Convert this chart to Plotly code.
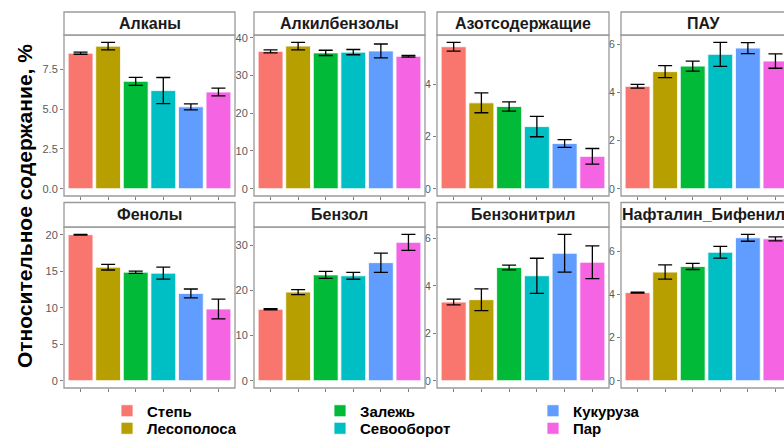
import plotly.graph_objects as go

# ---------------- data ----------------
groups = ["Степь", "Лесополоса", "Залежь", "Севооборот", "Кукуруза", "Пар"]
colors = ["#F8766D", "#B79F00", "#00BA38", "#00BFC4", "#619CFF", "#F564E3"]
# legend layout: column-major, 2 rows x 3 columns (as in the reference)
legend_row = ["legend", "legend2", "legend", "legend2", "legend", "legend2"]

panels = ["Алканы", "Алкилбензолы", "Азотсодержащие", "ПАУ",
          "Фенолы", "Бензол", "Бензонитрил", "Нафталин_Бифенил"]

alkany = [8.51, 8.95, 6.74, 6.16, 5.14, 6.07]
alkany_err = [0.07, 0.24, 0.25, 0.82, 0.19, 0.24]
alkilbenzoly = [36.4, 37.8, 36.0, 36.2, 36.5, 35.1]
alkilbenzoly_err = [0.4, 1.0, 0.7, 0.7, 1.85, 0.2]
azot = [5.44, 3.29, 3.15, 2.38, 1.73, 1.24]
azot_err = [0.17, 0.38, 0.18, 0.39, 0.15, 0.30]
pau = [4.26, 4.87, 5.10, 5.59, 5.85, 5.31]
pau_err = [0.08, 0.25, 0.21, 0.50, 0.23, 0.30]
fenoly = [20.0, 15.55, 14.86, 14.73, 11.95, 9.82]
fenoly_err = [0.05, 0.39, 0.16, 0.82, 0.61, 1.36]
benzol = [15.8, 19.6, 23.4, 23.2, 26.1, 30.6]
benzol_err = [0.15, 0.55, 0.77, 0.77, 2.13, 1.77]
benzonitril = [3.32, 3.42, 4.78, 4.43, 5.38, 5.00]
benzonitril_err = [0.12, 0.46, 0.10, 0.74, 0.80, 0.69]
naftalin = [4.08, 5.03, 5.29, 5.95, 6.62, 6.57]
naftalin_err = [0.02, 0.33, 0.14, 0.27, 0.16, 0.09]

values = [alkany, alkilbenzoly, azot, pau, fenoly, benzol, benzonitril, naftalin]
errors = [alkany_err, alkilbenzoly_err, azot_err, pau_err,
          fenoly_err, benzol_err, benzonitril_err, naftalin_err]
dticks = [2.5, 10, 2, 2, 5, 10, 2, 2]
tickformats = [".1f", "d", "d", "d", "d", "d", "d", "d"]

y_title = "Относительное содержание, %"

# ---------------- layout geometry (px) ----------------
W, H = 784, 439


def px_x(p):
    return p / W


def px_y(p):
    return 1 - p / H


col_px = [(64, 235), (254, 425), (437, 609), (621, 792)]
row_plot_px = [(35, 196), (227, 388)]
row_strip_px = [(12, 35), (202.5, 227)]
FONT = "Liberation Sans, Arial, sans-serif"
BORDER = "#9a9a9a"

fig = go.Figure()
layout = dict(width=W, height=H,
              margin=dict(l=0, r=0, t=0, b=0, pad=0, autoexpand=False),
              paper_bgcolor="white", plot_bgcolor="white",
              barmode="overlay", font=dict(family=FONT),
              shapes=[], annotations=[])

for i, name in enumerate(panels):
    r, c = divmod(i, 4)
    sfx = "" if i == 0 else str(i + 1)
    xa, ya = "x" + sfx, "y" + sfx
    vals, errs = values[i], errors[i]
    for g in range(len(groups)):
        fig.add_trace(go.Bar(
            x=[groups[g]], y=[vals[g]],
            error_y=dict(type="data", array=[errs[g]], color="black",
                         thickness=1.3, width=7),
            marker=dict(color=colors[g], line=dict(color="rgba(255,255,255,0.8)", width=1)),
            width=0.9, name="<b>" + groups[g] + "</b>", legendgroup=groups[g],
            legend=legend_row[g], showlegend=(i == 0),
            xaxis=xa, yaxis=ya, hoverinfo="skip"))

    x0p, x1p = col_px[c]
    visible_x1 = min(x1p, W)
    full_span = 6.2
    xr = [-0.6, -0.6 + full_span * (visible_x1 - x0p) / (x1p - x0p)]
    top_px, bot_px = row_plot_px[r]
    ymax = max(v + e for v, e in zip(vals, errs))
    layout["xaxis" + sfx] = dict(
        domain=[px_x(x0p), px_x(visible_x1)], anchor=ya, type="category",
        categoryorder="array", categoryarray=groups, range=xr,
        showticklabels=False, ticks="outside", ticklen=3, tickcolor="#7f7f7f",
        showgrid=False, zeroline=False, showline=False, fixedrange=True)
    layout["yaxis" + sfx] = dict(
        domain=[px_y(bot_px), px_y(top_px)], anchor=xa,
        range=[-0.05 * ymax, 1.05 * ymax], dtick=dticks[i], tick0=0,
        tickformat=tickformats[i], ticks="outside", ticklen=3,
        tickcolor="#7f7f7f", tickfont=dict(size=11, color="#5a5a5a", family=FONT),
        showgrid=False, zeroline=False, showline=False, fixedrange=True)

    # panel border
    layout["shapes"].append(dict(type="rect", xref="paper", yref="paper",
                                 x0=px_x(x0p), x1=px_x(x1p),
                                 y0=px_y(bot_px), y1=px_y(top_px),
                                 line=dict(color=BORDER, width=1.3),
                                 fillcolor="rgba(0,0,0,0)", layer="above"))
    # strip
    s0, s1 = row_strip_px[r]
    layout["shapes"].append(dict(type="rect", xref="paper", yref="paper",
                                 x0=px_x(x0p), x1=px_x(x1p),
                                 y0=px_y(s1), y1=px_y(s0),
                                 line=dict(color=BORDER, width=1.3),
                                 fillcolor="white", layer="above"))
    strip_cx = min((x0p + x1p) / 2, W - 81)
    layout["annotations"].append(dict(
        text="<b>" + name + "</b>", xref="paper", yref="paper",
        x=px_x(strip_cx), y=px_y((s0 + s1) / 2),
        xanchor="center", yanchor="middle", showarrow=False,
        font=dict(size=16, color="#1a1a1a", family=FONT)))

layout["annotations"].append(dict(
    text="<b>" + y_title + "</b>", xref="paper", yref="paper",
    x=px_x(24), y=px_y(206), textangle=-90, showarrow=False,
    xanchor="center", yanchor="middle",
    font=dict(size=21, color="black", family=FONT)))

legend_common = dict(orientation="h", x=px_x(107), xanchor="left", yanchor="middle",
                     entrywidth=168, entrywidthmode="pixels",
                     font=dict(size=15, color="black", family=FONT),
                     bgcolor="rgba(0,0,0,0)", traceorder="normal")
layout["legend"] = dict(y=px_y(411), **legend_common)
layout["legend2"] = dict(y=px_y(428.5), **legend_common)

fig.update_layout(**layout)
fig.write_html("out.html", config={"displayModeBar": False},
               post_script="document.body.style.margin='0';document.body.style.overflow='hidden';")
